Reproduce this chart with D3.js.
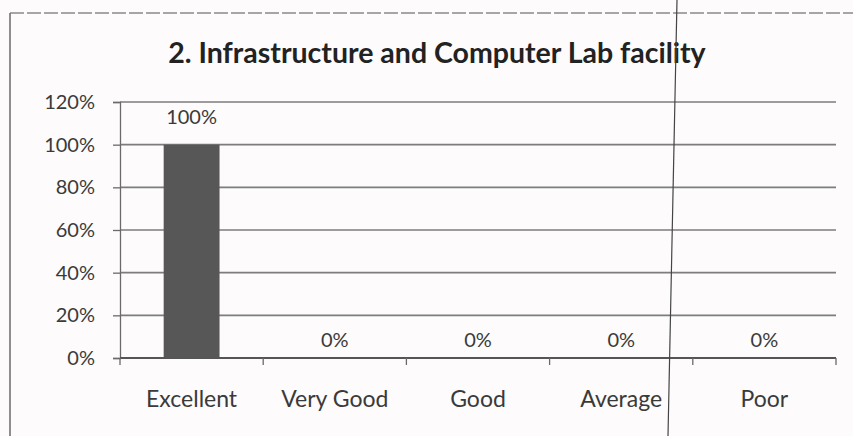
<!DOCTYPE html>
<html>
<head>
<meta charset="utf-8">
<script src="https://cdn.jsdelivr.net/npm/d3@7"></script>
<style>
  html, body { margin: 0; padding: 0; background: #fdfbfb; }
  svg { display: block; }
  text { font-family: Lato, "Open Sans", sans-serif; fill: #3a3a3a; }
</style>
</head>
<body>
<svg id="chart" width="853" height="436"></svg>
<script>
const title = "2. Infrastructure and Computer Lab facility";
const categories = ["Excellent", "Very Good", "Good", "Average", "Poor"];
const values = [1.00, 0, 0, 0, 0];
const yTicks = [0, 0.2, 0.4, 0.6, 0.8, 1.0, 1.2];

const W = 853, H = 436;
const svg = d3.select("#chart");
const plot = { left: 120, right: 836, top: 102, bottom: 358 };

// page frame (scan border)
svg.append("line").attr("x1", 10).attr("x2", W).attr("y1", 13).attr("y2", 13)
  .attr("stroke", "#8a8a8a").attr("stroke-width", 1.5).attr("stroke-dasharray", "14 3");
svg.append("line").attr("x1", 10).attr("x2", 10).attr("y1", 13).attr("y2", H)
  .attr("stroke", "#6a6a6a").attr("stroke-width", 1.5);

const x = d3.scaleBand().domain(categories).range([plot.left, plot.right])
  .paddingInner(0.61).paddingOuter(0.305);
const y = d3.scaleLinear().domain([0, 1.2]).range([plot.bottom, plot.top]);

// gridlines
svg.append("g").selectAll("line").data(yTicks.filter(d => d > 0)).join("line")
  .attr("x1", plot.left).attr("x2", plot.right)
  .attr("y1", d => y(d)).attr("y2", d => y(d))
  .attr("stroke", "#7d7d7d").attr("stroke-width", 1.6);

// y axis
const yAxis = d3.axisLeft(y).tickValues(yTicks).tickFormat(d3.format(".0%")).tickSize(7).tickPadding(18);
const gy = svg.append("g").attr("transform", `translate(${plot.left},0)`).call(yAxis);
gy.select(".domain").attr("stroke", "#6a6a6a").attr("stroke-width", 1.3);
gy.selectAll(".tick line").attr("stroke", "#6a6a6a").attr("stroke-width", 1.3);
gy.selectAll(".tick text").style("font-size", "20px").style("fill", "#3a3a3a").attr("font-family", null);

// x axis
const xEdges = d3.range(categories.length + 1).map(i => plot.left + i * x.step());
const gx = svg.append("g");
gx.append("line").attr("x1", plot.left).attr("x2", plot.right)
  .attr("y1", plot.bottom).attr("y2", plot.bottom)
  .attr("stroke", "#555").attr("stroke-width", 2);
gx.selectAll("line.tk").data(xEdges).join("line").attr("class", "tk")
  .attr("x1", d => d).attr("x2", d => d)
  .attr("y1", plot.bottom).attr("y2", plot.bottom + 7)
  .attr("stroke", "#6a6a6a").attr("stroke-width", 1.3);
gx.selectAll("text").data(categories).join("text")
  .attr("x", d => x(d) + x.bandwidth() / 2).attr("y", 407)
  .attr("text-anchor", "middle")
  .style("font-size", "23px").text(d => d);

// bars
svg.append("g").selectAll("rect").data(categories).join("rect")
  .attr("x", d => x(d)).attr("width", x.bandwidth())
  .attr("y", (d, i) => y(values[i])).attr("height", (d, i) => plot.bottom - y(values[i]))
  .attr("fill", "#575757");

// data labels
svg.append("g").selectAll("text").data(categories).join("text")
  .attr("x", d => x(d) + x.bandwidth() / 2)
  .attr("y", (d, i) => values[i] > 0 ? y(values[i]) - 26 : y(values[i]) - 16)
  .attr("text-anchor", "middle").attr("dominant-baseline", "middle")
  .style("font-size", "20px").text((d, i) => d3.format(".0%")(values[i]));

// title
svg.append("text").attr("x", 437).attr("y", 63)
  .attr("text-anchor", "middle")
  .style("font-size", "28.5px").style("font-weight", "bold").style("fill", "#222")
  .text(title);

// scan fold line
svg.append("line").attr("x1", 677).attr("y1", 0).attr("x2", 668).attr("y2", H)
  .attr("stroke", "#444").attr("stroke-width", 1.2);
</script>
</body>
</html>
